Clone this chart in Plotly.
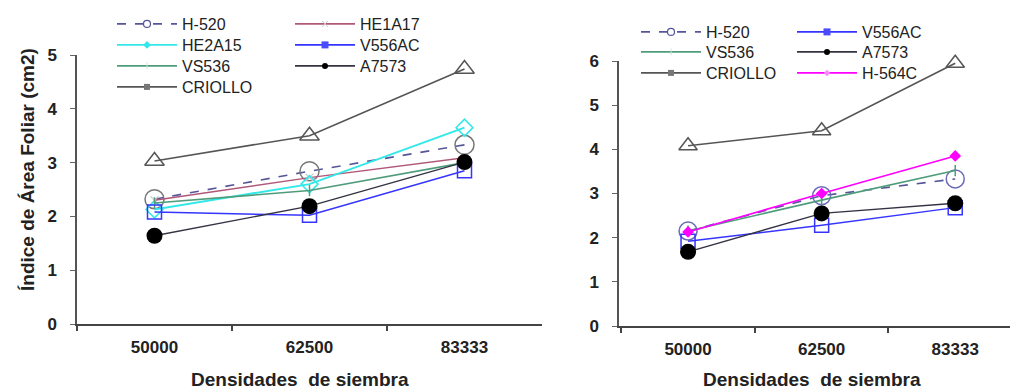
import plotly.graph_objects as go

W, H = 1010, 392

categories = ["50000", "62500", "83333"]

# Left panel series
left_h520 = [2.32, 2.84, 3.33]
left_he1a17 = [2.30, 2.72, 3.09]
left_he2a15 = [2.13, 2.60, 3.65]
left_v556ac = [2.08, 2.02, 2.85]
left_vs536 = [2.25, 2.48, 3.00]
left_a7573 = [1.64, 2.19, 3.01]
left_criollo = [3.03, 3.50, 4.74]

# Right panel series
right_h520 = [2.15, 2.95, 3.33]
right_v556ac = [1.92, 2.28, 2.68]
right_vs536 = [2.15, 2.85, 3.52]
right_a7573 = [1.68, 2.55, 2.78]
right_criollo = [4.08, 4.42, 5.95]
right_h564c = [2.13, 3.00, 3.85]

xpos = list(range(len(categories)))

def px(x):
    return x / W

def py(y):
    return 1 - y / H

styles = {
    "H-520": dict(line=dict(color="#55559a", width=1.6, dash="dash"),
                  marker=dict(symbol="circle-open", size=19, color="#777777", line=dict(width=1.5))),
    "HE1A17": dict(line=dict(color="#b0587a", width=1.4),
                   marker=dict(symbol="x-thin-open", size=8, color="#cccccc", line=dict(width=1.2))),
    "HE2A15": dict(line=dict(color="#33e8e8", width=2.0),
                   marker=dict(symbol="diamond-open", size=13, color="#33e8e8", line=dict(width=1.5))),
    "V556AC": dict(line=dict(color="#3535ff", width=1.5),
                   marker=dict(symbol="square-open", size=14, color="#3535ff", line=dict(width=1.5))),
    "VS536": dict(line=dict(color="#4f9c7c", width=1.6),
                  marker=dict(symbol="line-ns-open", size=8, color="#4f9c7c", line=dict(width=1.5))),
    "A7573": dict(line=dict(color="#333344", width=1.4),
                  marker=dict(symbol="circle", size=16, color="#000000")),
    "CRIOLLO": dict(line=dict(color="#555555", width=1.6),
                    marker=dict(symbol="triangle-up-open", size=17, color="#555555", line=dict(width=1.5))),
    "H-564C": dict(line=dict(color="#ff00ff", width=1.6),
                   marker=dict(symbol="diamond", size=9, color="#ff00ff")),
}

legend_markers = {
    "H-520": dict(symbol="circle-open", size=7, color="#55559a", line=dict(width=1.2)),
    "HE1A17": dict(symbol="x-thin-open", size=6, color="#cccccc", line=dict(width=1)),
    "HE2A15": dict(symbol="diamond", size=6, color="#33e8e8"),
    "V556AC": dict(symbol="square", size=7, color="#4a4aff"),
    "VS536": dict(symbol="line-ns-open", size=5, color="#cfe3da", line=dict(width=1)),
    "A7573": dict(symbol="circle", size=6, color="#000000"),
    "CRIOLLO": dict(symbol="square", size=6, color="#777777"),
    "H-564C": dict(symbol="diamond", size=5, color="#ff88ff"),
}

fig = go.Figure()

left_series = [("H-520", left_h520), ("HE1A17", left_he1a17), ("HE2A15", left_he2a15),
               ("VS536", left_vs536), ("V556AC", left_v556ac), ("A7573", left_a7573),
               ("CRIOLLO", left_criollo)]
right_series = [("H-520", right_h520), ("VS536", right_vs536), ("V556AC", right_v556ac),
                ("A7573", right_a7573), ("H-564C", right_h564c), ("CRIOLLO", right_criollo)]

for name, vals in left_series:
    st = styles[name]
    fig.add_trace(go.Scatter(x=xpos, y=vals, mode="lines+markers", name=name,
                             line=st["line"], marker=st["marker"], showlegend=False,
                             cliponaxis=False, xaxis="x", yaxis="y"))
for name, vals in right_series:
    st = dict(styles[name])
    mk = dict(st["marker"])
    if name == "H-520":
        mk = dict(mk, color="#6a6ab8", size=18)
    if name == "CRIOLLO":
        mk = dict(mk, size=16)
    fig.add_trace(go.Scatter(x=xpos, y=vals, mode="lines+markers", name=name,
                             line=st["line"], marker=mk, showlegend=False,
                             cliponaxis=False, xaxis="x2", yaxis="y2"))

# Legend entries: (name, text-left px, row-center px)
left_legend = [("H-520", 182, 24), ("HE2A15", 182, 45), ("VS536", 182, 66), ("CRIOLLO", 182, 87),
               ("HE1A17", 360, 24), ("V556AC", 360, 45), ("A7573", 360, 66)]
right_legend = [("H-520", 706, 32), ("VS536", 706, 52), ("CRIOLLO", 706, 73),
                ("V556AC", 862, 32), ("A7573", 862, 52), ("H-564C", 862, 73)]

legend_layouts = {}
idx = 0
for (entries, xa, ya) in [(left_legend, "x", "y"), (right_legend, "x2", "y2")]:
    for name, tx, ty in entries:
        idx += 1
        lname = "legend" if idx == 1 else f"legend{idx}"
        st = styles[name]
        fig.add_trace(go.Scatter(x=[None], y=[None], mode="lines+markers", name=name,
                                 line=dict(color=st["line"]["color"], width=1.6,
                                           dash=st["line"].get("dash", "solid")),
                                 marker=legend_markers[name], showlegend=True,
                                 legend=lname, xaxis=xa, yaxis=ya))
        legend_layouts[lname] = dict(
            x=px(tx - 70), y=py(ty), xanchor="left", yanchor="middle",
            bgcolor="rgba(0,0,0,0)", borderwidth=0, itemwidth=60,
            font=dict(family="Liberation Sans, Arial", size=16, color="#222222"),
        )

axis_font = dict(family="Liberation Sans, Arial", size=17, color="#222222", weight="bold")
title_font = dict(family="Liberation Sans, Arial", size=19, color="#222222", weight="bold")

common_x = dict(
    tickmode="array", tickvals=xpos, ticktext=categories, ticks="",
    showline=True, linecolor="#444444", linewidth=2, showgrid=False, zeroline=False,
    tickfont=axis_font, ticklabelstandoff=7, automargin=False,
    minor=dict(tickmode="array", tickvals=[-0.5, 0.5, 1.5], ticks="outside",
               ticklen=5, tickcolor="#444444", tickwidth=1.5, showgrid=False),
)
common_y = dict(
    dtick=1, ticks="outside", ticklen=5, tickcolor="#666666", tickwidth=1.2,
    showline=True, linecolor="#555555", linewidth=1.5, showgrid=False, zeroline=False,
    tickfont=axis_font, ticklabelstandoff=10, automargin=False,
)

fig.update_layout(
    width=W, height=H,
    margin=dict(l=0, r=0, t=0, b=0, autoexpand=False),
    paper_bgcolor="white", plot_bgcolor="white",
    xaxis=dict(common_x, domain=[px(77), px(542)], range=[-0.5, 2.5], anchor="y"),
    yaxis=dict(common_y, domain=[py(324), py(55)], range=[0, 5], anchor="x"),
    xaxis2=dict(common_x, domain=[px(619), 1.0], range=[-0.517, 2.41], anchor="y2"),
    yaxis2=dict(common_y, domain=[py(326), py(61)], range=[0, 6], anchor="x2"),
    annotations=[
        dict(text="Índice de Área Foliar (cm2)", textangle=-90, x=px(27), y=py(170),
             xref="paper", yref="paper", showarrow=False, xanchor="center", yanchor="middle",
             font=title_font),
        dict(text="Densidades  de siembra", x=px(300), y=py(379),
             xref="paper", yref="paper", showarrow=False, xanchor="center", yanchor="middle",
             font=title_font),
        dict(text="Densidades  de siembra", x=px(812), y=py(379),
             xref="paper", yref="paper", showarrow=False, xanchor="center", yanchor="middle",
             font=title_font),
    ],
    **legend_layouts,
)

fig.write_html("out.html")
